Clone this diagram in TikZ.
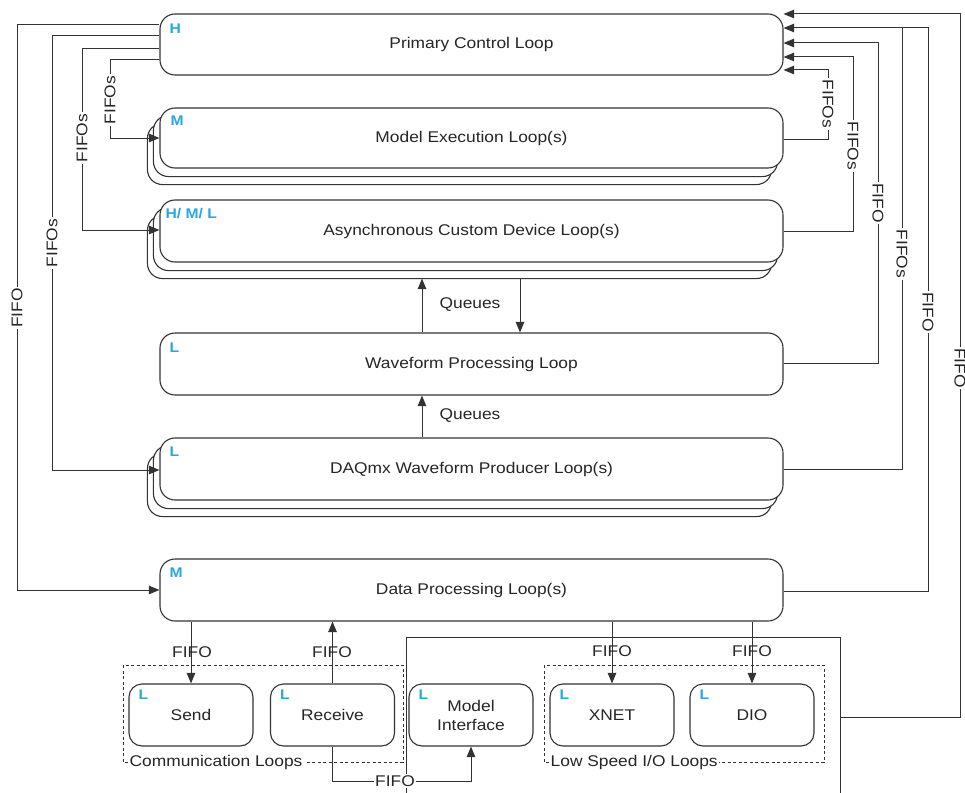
\documentclass[tikz,border=0pt]{standalone}
\usepackage{fontspec}
\setmainfont{Liberation Sans}[FakeStretch=1.12]
\usetikzlibrary{arrows.meta,backgrounds}
\definecolor{ln}{HTML}{333333}
\definecolor{tag}{HTML}{29A8E0}
\begin{document}
\begin{tikzpicture}[x=1bp,y=-1bp,
  every node/.style={font=\fontsize{15.5bp}{19bp}\selectfont, text=black!85},
  loopbox/.style={draw=ln, line width=1.1bp, fill=white, rounded corners=15bp, minimum width=623bp, inner sep=0pt},
  copybox/.style={draw=ln, line width=1.1bp, fill=white, rounded corners=15bp},
  smallbox/.style={draw=ln, line width=1.1bp, fill=white, rounded corners=13bp, minimum width=124bp, minimum height=62bp, inner sep=0pt, align=center},
  tagl/.style={text=tag, font=\fontsize{14bp}{15bp}\selectfont\bfseries, anchor=north west, inner sep=0pt},
  conn/.style={draw=ln, line width=1bp},
  arr/.style={conn, -{Triangle[length=10.5bp,width=8.5bp]}},
  lbl/.style={fill=white, inner sep=1.5bp},
  lblL/.style={lbl, rotate=90},
  lblR/.style={lbl, rotate=-90},
  grp/.style={draw=ln, line width=1bp, dash pattern=on 3bp off 2.5bp},
]
\useasboundingbox (0,0) rectangle (965,793);

% main loops
\node[loopbox, minimum height=61bp] (pcl) at (471.5,44.5) {Primary Control Loop};
\node[loopbox, minimum height=60bp] (mel) at (471.5,138) {Model Execution Loop(s)};
\node[loopbox, minimum height=62bp] (acd) at (471.5,231) {Asynchronous Custom Device Loop(s)};
\node[loopbox, minimum height=62bp] (wpl) at (471.5,364) {Waveform Processing Loop};
\node[loopbox, minimum height=62bp] (daq) at (471.5,469) {DAQmx Waveform Producer Loop(s)};
\node[loopbox, minimum height=62bp] (dpl) at (471.5,590) {Data Processing Loop(s)};

\begin{scope}[on background layer]
  \foreach \n in {mel,acd,daq}{
    \foreach \k in {2,1}{
      \draw[copybox] ([shift={(-6*\k,8*\k)}]\n.south west) rectangle ([shift={(-6*\k,8*\k)}]\n.north east);
    }
  }
\end{scope}

% tags
\node[tagl] (tpcl) at ([shift={(10,10)}]pcl.north west) {H};
\node[tagl] (tmel) at ([shift={(11,8)}]mel.north west) {M};
\node[tagl] (tacd) at ([shift={(6,9)}]acd.north west) {H/ M/ L};
\node[tagl] (twpl) at ([shift={(10,10)}]wpl.north west) {L};
\node[tagl] (tdaq) at ([shift={(10,9)}]daq.north west) {L};
\node[tagl] (tdpl) at ([shift={(10,9)}]dpl.north west) {M};

% small loops
\node[smallbox] (send) at (191,715) {Send};
\node[smallbox] (recv) at (332.5,715) {Receive};
\node[smallbox] (mif) at (471,715) {Model\\Interface};
\node[smallbox] (xnet) at (612,715) {XNET};
\node[smallbox] (dio) at (752,715) {DIO};
\foreach \b in {send,recv,mif,xnet,dio}{
  \node[tagl] (t\b) at ([shift={(10,6)}]\b.north west) {L};
}

% groups
\draw[grp] (123,665) rectangle (403,762);
\node[lbl, anchor=west] (gcl) at (128,762) {Communication Loops};
\draw[grp] (544,665) rectangle (824,762);
\node[lbl, anchor=west] (gls) at (549,762) {Low Speed I/O Loops};

% outer frame (cut off)
\draw[conn] (406,793) |- (840,637) -- (840,793);
\coordinate (frm) at (840,717);

% left connectors
\draw[arr] (pcl.west |- 0,25) -| (17,590) -- (dpl.west |- 0,590);
\draw[arr] (pcl.west |- 0,36) -| (52,470) -- (daq.west |- 0,470);
\draw[arr] (pcl.west |- 0,49) -| (82,230) -- (acd.west |- 0,230);
\draw[arr] (pcl.west |- 0,60) -| (110,138) -- (mel.west |- 0,138);
\node[lblL] (l1) at (17,308) {FIFO};
\node[lblL] (l2) at (52,243) {FIFOs};
\node[lblL] (l3) at (82,138) {FIFOs};
\node[lblL] (l4) at (110,100) {FIFOs};

% right connectors
\draw[arr] (mel.east |- 0,139) -| (828,70) -- (pcl.east |- 0,70);
\draw[arr] (acd.east |- 0,231) -| (853,57) -- (pcl.east |- 0,57);
\draw[arr] (wpl.east |- 0,363) -| (878,43) -- (pcl.east |- 0,43);
\draw[arr] (daq.east |- 0,469) -| (902,28) -- (pcl.east |- 0,28);
\draw[conn] (dpl.east |- 0,591) -| (928,28) -- (902,28);
\draw[arr] (frm) -| (960,14) -- (pcl.east |- 0,14);
\node[lblR] (r1) at (828,104) {FIFOs};
\node[lblR] (r2) at (853,146) {FIFOs};
\node[lblR] (r3) at (878,203) {FIFO};
\node[lblR] (r4) at (902,254) {FIFOs};
\node[lblR] (r5) at (928,312) {FIFO};
\node[lblR] (r6) at (960,368) {FIFO};

% queues
\coordinate (acdb) at ([yshift=-16bp]acd.south);
\coordinate (daqt) at (daq.north);
\draw[arr] (wpl.north -| 422,0) -- (acdb -| 422,0);
\draw[arr] (acdb -| 520,0) -- (wpl.north -| 520,0);
\node (q1) at (470,305) {Queues};
\draw[arr] (daqt -| 422,0) -- (wpl.south -| 422,0);
\node (q2) at (470,416) {Queues};

% bottom connectors
\draw[arr] (send.north |- dpl.south) -- (send.north);
\draw[arr] (recv.north) -- (recv.north |- dpl.south);
\draw[arr] (xnet.north |- dpl.south) -- (xnet.north);
\draw[arr] (dio.north |- dpl.south) -- (dio.north);
\node (b1) at (192,652) {FIFO};
\node (b2) at (332,652) {FIFO};
\node (b3) at (612,651) {FIFO};
\node (b4) at (752,651) {FIFO};
\draw[arr] (recv.south) |- (mif.south |- 0,781) -- (mif.south);
\node[lbl] (b5) at (395,781) {FIFO};
\end{tikzpicture}
\end{document}
